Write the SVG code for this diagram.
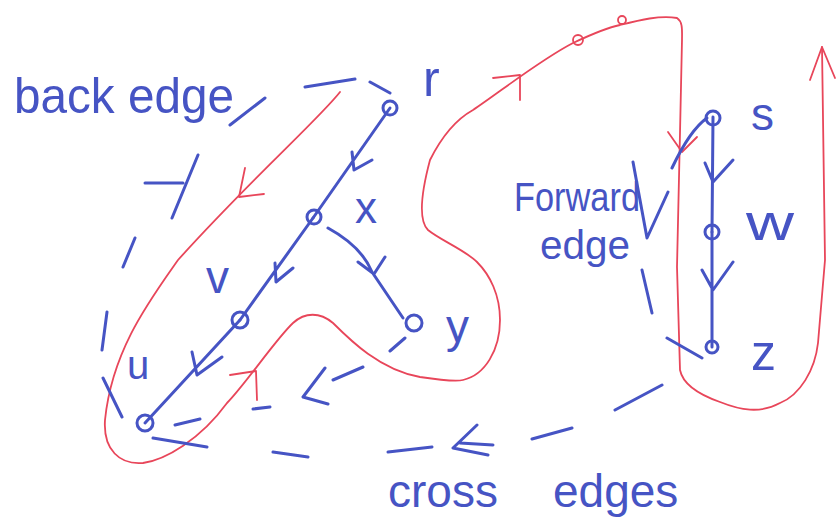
<svg xmlns="http://www.w3.org/2000/svg" width="838" height="531" viewBox="0 0 838 531">
<style>
.b{stroke:#4654c4;stroke-width:3;fill:none;stroke-linecap:round;stroke-linejoin:round}
.rd{stroke:#e8465a;stroke-width:1.8;fill:none;stroke-linecap:round;stroke-linejoin:round}
.nd{stroke:#4654c4;stroke-width:3;fill:none}
.t{font-family:"Liberation Sans",Arial,sans-serif;fill:#4654c4}
</style>
<rect width="838" height="531" fill="#ffffff"/>
<g id="traversal">
<path class="rd" d="M340,92 C320,118 250,180 178,260 C150,300 112,350 105,420 C103,450 120,465 143,463 C165,460 200,440 227,403 C245,385 275,340 293,323 C305,312 320,312 333,323 C350,340 380,370 420,377 C440,380 455,382 463,380 C485,375 500,350 500,320 C500,295 490,275 477,262 C465,250 440,240 428,230 C418,220 422,190 430,160 C440,140 455,120 473,110 C500,92 540,60 573,43 C590,35 605,28 620,25 C640,20 660,15 677,18 C683,22 682,30 682,40 L680,133 L677,267 L680,370 C683,385 700,395 720,402 C740,410 760,414 780,403 C800,395 815,370 818,343 L825,260 L822,47"/>
<path class="rd" d="M245,168 L239,197 L264,194"/>
<path class="rd" d="M230,375 L256,371 L257,400"/>
<path class="rd" d="M493,78 L520,75 L520,100"/>
<path class="rd" d="M668,132 L682,152 L697,137"/>
<path class="rd" d="M810,80 L822,47 L835,78"/>
<circle class="rd" cx="578" cy="40" r="5"/>
<circle class="rd" cx="622" cy="20" r="4"/>
</g>
<g id="connectors">
<path class="b" d="M390,108 L313,218 M352,152 L354,170 L372,160"/>
<path class="b" d="M313,218 L240,320 M275,263 L276,282 L293,268"/>
<path class="b" d="M240,320 L145,423 M192,352 L197,375 L222,357"/>
<path class="b" d="M328,228 C350,240 365,255 372,272 L403,318 M358,262 L374,274 L385,257"/>
<path class="b" d="M713,117 L712,232 M705,163 L713,182 L733,160"/>
<path class="b" d="M712,232 L712,347 M702,270 L713,290 L733,262"/>
<g id="back-edge">
<path class="b" d="M122,417 L103,378 M102,350 L107,312 M123,267 L135,238 M145,183 L183,183 M198,155 L172,218 M230,125 L265,98 M305,87 L355,79 M370,82 L390,93"/>
</g>
<g id="forward-edge">
<path class="b" d="M707,118 Q690,130 672,168 M633,162 L647,238 L668,192 M642,270 L652,313 M667,338 L702,358"/>
</g>
<g id="cross-edges">
<path class="b" d="M662,385 L615,410 M572,428 L532,439 M477,425 L453,448 L488,455 M460,443 L493,445 M432,447 L388,452 M308,457 L273,452 M207,447 L153,438"/>
<path class="b" d="M405,338 L390,351 M363,367 L333,380 M325,368 L303,397 L328,404 M270,407 L253,409 M200,419 L175,425"/>
</g>
</g>
<g id="node-r"><circle class="nd" cx="390" cy="108" r="7"/><text class="t" x="423" y="96" font-size="50">r</text></g>
<g id="node-x"><circle class="nd" cx="314" cy="217" r="7"/><text class="t" x="355" y="223" font-size="44">x</text></g>
<g id="node-v"><circle class="nd" cx="240" cy="320" r="8"/><text class="t" x="206" y="293" font-size="46">v</text></g>
<g id="node-u"><circle class="nd" cx="145" cy="423" r="8"/><text class="t" x="127" y="379" font-size="40">u</text></g>
<g id="node-y"><circle class="nd" cx="414" cy="323" r="8"/><text class="t" x="446" y="342" font-size="46">y</text></g>
<g id="node-s"><circle class="nd" cx="713" cy="118" r="7"/><text class="t" x="751" y="130" font-size="46">s</text></g>
<g id="node-w"><circle class="nd" cx="712" cy="232" r="7"/><text class="t" x="746" y="240" font-size="52" textLength="48" lengthAdjust="spacingAndGlyphs">w</text></g>
<g id="node-z"><circle class="nd" cx="712" cy="347" r="6"/><text class="t" x="751" y="370" font-size="50">z</text></g>
<g id="labels">
<text class="t" x="14" y="113" font-size="50" textLength="220" lengthAdjust="spacingAndGlyphs">back edge</text>
<text class="t" x="514" y="211" font-size="40" textLength="126" lengthAdjust="spacingAndGlyphs">Forward</text>
<text class="t" x="540" y="259" font-size="40" textLength="90" lengthAdjust="spacingAndGlyphs">edge</text>
<text class="t" y="507" font-size="46"><tspan x="388">cross</tspan><tspan x="553">edges</tspan></text>
</g>
</svg>
